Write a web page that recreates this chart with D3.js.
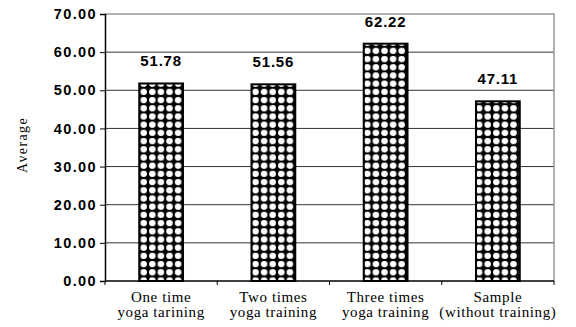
<!DOCTYPE html>
<html>
<head>
<meta charset="utf-8">
<script src="https://cdn.jsdelivr.net/npm/d3@7"></script>
<style>
  body { margin: 0; background: #fff; }
  svg { display: block; }
</style>
</head>
<body>
<div id="chart"></div>
<script>
// chart data
const categories = [
  ["One time", "yoga tarining"],
  ["Two times", "yoga training"],
  ["Three times", "yoga training"],
  ["Sample", "(without training)"]
];
const averages = [51.78, 51.56, 62.22, 47.11];
const yTicks = [0, 10, 20, 30, 40, 50, 60, 70];

const width = 576, height = 327;
const margin = { top: 14, right: 22, bottom: 46, left: 105 };
const innerW = width - margin.left - margin.right;
const innerH = height - margin.top - margin.bottom;

const svg = d3.select("#chart").append("svg")
  .attr("width", width)
  .attr("height", height);

// dotted fill used by the bars
const defs = svg.append("defs");
const pat = defs.append("pattern")
  .attr("id", "dots")
  .attr("patternUnits", "userSpaceOnUse")
  .attr("width", 8.6)
  .attr("height", 8.2);
pat.append("rect").attr("width", 8.6).attr("height", 8.2).attr("fill", "#000");
pat.append("ellipse")
  .attr("cx", 4.3).attr("cy", 4.1)
  .attr("rx", 3.3).attr("ry", 3.1)
  .attr("fill", "#fff");

const g = svg.append("g")
  .attr("transform", `translate(${margin.left},${margin.top})`);

const keys = categories.map((d, i) => i);

const x = d3.scaleBand()
  .domain(keys)
  .range([0, innerW])
  .paddingInner(0.61)
  .paddingOuter(0.305);

const y = d3.scaleLinear()
  .domain([0, 70])
  .range([innerH, 0]);

// gridlines
g.append("g")
  .selectAll("line")
  .data(yTicks.filter(t => t > 0 && t < 70))
  .enter()
  .append("line")
  .attr("x1", 0).attr("x2", innerW)
  .attr("y1", d => y(d)).attr("y2", d => y(d))
  .attr("stroke", "#333")
  .attr("stroke-width", 1);

// top and right border
g.append("path")
  .attr("d", `M0,${y(70)}H${innerW}V${innerH}`)
  .attr("fill", "none")
  .attr("stroke", "#999")
  .attr("stroke-width", 1.5);

// y axis
const yAxis = g.append("g")
  .call(d3.axisLeft(y).tickValues(yTicks).tickSize(5).tickPadding(3).tickFormat(d3.format(".2f")));
yAxis.select(".domain").attr("stroke", "#000").attr("stroke-width", 1.5);
yAxis.selectAll(".tick line").attr("stroke", "#000");
yAxis.selectAll(".tick text")
  .attr("fill", "#000")
  .style("font-family", "'Liberation Sans', Arial, sans-serif")
  .style("font-weight", "bold")
  .style("font-size", "14.5px")
  .style("letter-spacing", "1.4px");

// x axis: ticks at category boundaries
const xAxisG = g.append("g").attr("transform", `translate(0,${innerH})`);
xAxisG.append("line")
  .attr("x1", 0).attr("x2", innerW)
  .attr("stroke", "#000")
  .attr("stroke-width", 1.5);
const step = x.step();
xAxisG.selectAll(".xtick")
  .data(d3.range(keys.length + 1))
  .enter()
  .append("line")
  .attr("class", "xtick")
  .attr("x1", d => d * step).attr("x2", d => d * step)
  .attr("y1", 0).attr("y2", 4)
  .attr("stroke", "#000");

// category labels
const catText = xAxisG.selectAll(".cat")
  .data(categories)
  .enter()
  .append("text")
  .attr("class", "cat")
  .attr("text-anchor", "middle")
  .attr("fill", "#000")
  .style("font-family", "'Liberation Serif', 'Times New Roman', serif")
  .style("font-size", "15px")
  .style("letter-spacing", "0.6px");
catText.each(function(d, i) {
  const t = d3.select(this);
  d.forEach((line, j) => {
    t.append("tspan")
      .attr("x", x(i) + x.bandwidth() / 2)
      .attr("y", 21 + j * 15)
      .text(line);
  });
});

// bars
g.selectAll(".bar")
  .data(averages)
  .enter()
  .append("rect")
  .attr("class", "bar")
  .attr("x", (d, i) => x(i))
  .attr("y", d => y(d))
  .attr("width", x.bandwidth())
  .attr("height", d => innerH - y(d))
  .attr("fill", "url(#dots)")
  .attr("stroke", "#000")
  .attr("stroke-width", 2);

// value labels
g.selectAll(".val")
  .data(averages)
  .enter()
  .append("text")
  .attr("class", "val")
  .attr("x", (d, i) => x(i) + x.bandwidth() / 2)
  .attr("y", d => y(d) - 17)
  .attr("text-anchor", "middle")
  .attr("fill", "#000")
  .style("font-family", "'Liberation Sans', Arial, sans-serif")
  .style("font-weight", "bold")
  .style("font-size", "15px")
  .style("letter-spacing", "0.8px")
  .text(d => d.toFixed(2));

// y axis title
svg.append("text")
  .attr("transform", `translate(27,${margin.top + 131}) rotate(-90)`)
  .attr("text-anchor", "middle")
  .attr("fill", "#000")
  .style("font-family", "'Liberation Serif', 'Times New Roman', serif")
  .style("font-size", "14px")
  .style("letter-spacing", "1.4px")
  .text("Average");
</script>
</body>
</html>
